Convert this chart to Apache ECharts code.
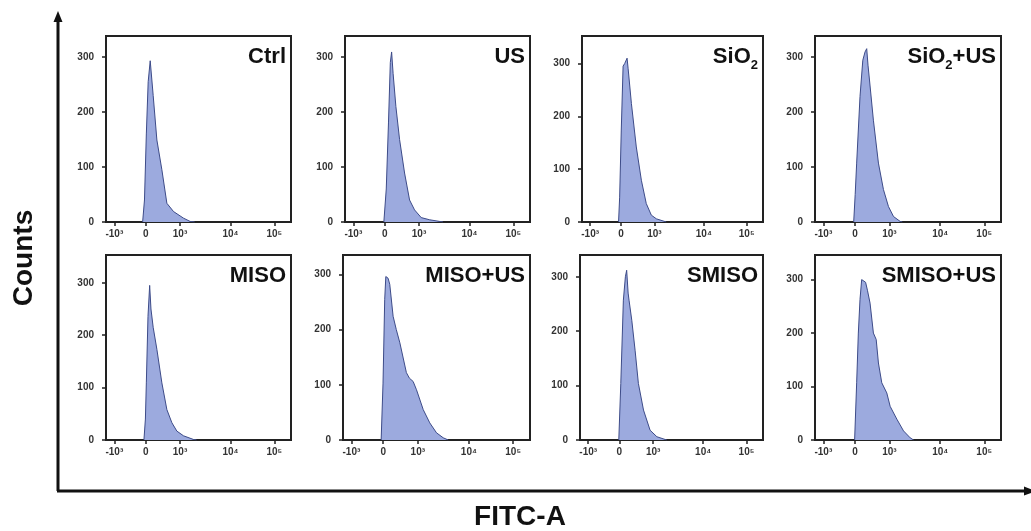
<!DOCTYPE html>
<html><head><meta charset="utf-8">
<script src="https://cdn.jsdelivr.net/npm/echarts@6/dist/echarts.min.js"></script>
<style>html,body{margin:0;padding:0;background:#fff}#c{width:1031px;height:531px}</style>
</head><body><div id="c"></div>
<script>
// ---- data (x in display/channel units of the biexponential FITC-A axis, y = counts)
const panelTitles = ['Ctrl', 'US', 'SiO{sub|2}', 'SiO{sub|2}+US', 'MISO', 'MISO+US', 'SMISO', 'SMISO+US'];
const xTickPos = [4.5, 21.5, 40, 67.3, 91];
const xTickLabels = ['-10³', '0', '10³', '10⁴', '10⁵'];
const yTicks = [0, 100, 200, 300];
const yMax = [338, 338, 352, 338, 353, 335, 340, 346];

const ctrl = [[19.8,0],[20.8,40],[21.8,160],[22.8,255],[23.9,293],[25.5,230],[27.5,149],[30.2,95],[32.9,34],[36.5,19],[41.9,7],[45.5,1],[48,0]];
const us = [[21,0],[22.3,60],[23.5,180],[24.5,290],[25.2,309],[26,270],[27.5,210],[29.5,150],[32.2,89],[34.9,40],[37.6,22],[41.2,8],[45.8,4],[51.2,1],[53,0]];
const sio2 = [[20.2,0],[20.8,47],[21.7,174],[22.7,295],[23.6,300],[24.2,297],[24.9,310],[25.5,290],[27.3,224],[30,142],[32.8,79],[35.5,35],[38.3,13],[41.1,6],[46.6,0]];
const sio2us = [[20.8,0],[21.6,50],[22.4,107],[24.2,228],[25.7,294],[26.9,309],[27.8,315],[28.5,285],[29.3,258],[31.4,185],[34.1,107],[36.8,59],[39.5,28],[42.2,10],[45.8,1],[47,0]];
const miso = [[20.5,0],[21.3,40],[21.8,109],[22.7,236],[23.6,295],[24.3,250],[25.5,215],[27.5,173],[30.2,109],[32.9,58],[35.6,33],[38.3,17],[41.9,8],[47.3,1],[49,0]];
const misous = [[20.4,0],[21.4,103],[22.3,254],[22.9,296],[24.1,293],[25,282],[26.8,224],[28.5,200],[30.4,176],[33.9,122],[35.5,112],[37.5,106],[39.3,91],[42.9,55],[46.4,31],[50,13],[53.6,4],[56.3,0]];
const smiso = [[21.2,0],[22.3,104],[23.7,257],[24.8,300],[25.5,312],[26.3,270],[26.8,257],[28.3,220],[30.1,165],[31.9,104],[34.7,55],[38.3,18],[42,6],[47.4,0]];
const smisous = [[21.3,0],[22.4,107],[23.3,200],[24.2,263],[25.1,300],[25.9,303],[27.2,295],[28.2,280],[29.6,256],[31.4,200],[32.9,188],[34.1,144],[35.9,107],[38.6,88],[40.4,63],[44,39],[47.6,17],[51.2,4],[53,0]];
const panelData = [ctrl, us, sio2, sio2us, miso, misous, smiso, smisous];

// ---- layout
const gridLefts = [106, 345, 582, 815, 106, 343, 580, 815];
const gridWidths = [185, 185, 181, 186, 185, 187, 183, 186];
const gridTops = [36, 36, 36, 36, 255, 255, 255, 255];
const gridHeights = [186, 186, 186, 186, 185, 185, 185, 185];

const W = 1031;
const FONT = 'Liberation Sans, Arial, sans-serif';
const tickColor = '#333';
const boxColor = '#222';

const grids = [], xAxes = [], yAxes = [], series = [], titles = [];
for (let i = 0; i < 8; i++) {
  grids.push({left: gridLefts[i], top: gridTops[i], width: gridWidths[i], height: gridHeights[i],
    show: true, borderColor: boxColor, borderWidth: 2, backgroundColor: '#fff'});
  xAxes.push({type: 'value', gridIndex: i, min: 0, max: 100,
    axisLine: {show: true, onZero: false, lineStyle: {color: boxColor, width: 2}},
    axisTick: {show: true, length: 4, customValues: xTickPos, lineStyle: {color: boxColor, width: 1.5}},
    axisLabel: {show: true, customValues: xTickPos, margin: 7, fontFamily: FONT, fontSize: 10, fontWeight: 'bold', color: tickColor,
      formatter: v => xTickLabels[xTickPos.indexOf(v)] || ''},
    splitLine: {show: false}});
  yAxes.push({type: 'value', gridIndex: i, min: 0, max: yMax[i],
    axisLine: {show: true, lineStyle: {color: boxColor, width: 2}},
    axisTick: {show: true, length: 4, customValues: yTicks, lineStyle: {color: boxColor, width: 1.5}},
    axisLabel: {show: true, customValues: yTicks, margin: 12, fontFamily: FONT, fontSize: 10, fontWeight: 'bold', color: tickColor},
    splitLine: {show: false}});
  series.push({type: 'line', xAxisIndex: i, yAxisIndex: i, data: panelData[i], showSymbol: false, symbol: 'none',
    lineStyle: {color: '#3d4b88', width: 1}, areaStyle: {color: '#9caade', opacity: 1}, silent: true, animation: false});
  titles.push({text: panelTitles[i], right: W - (gridLefts[i] + gridWidths[i]) + 5, top: gridTops[i] + 10, padding: 0,
    textStyle: {fontFamily: FONT, fontSize: 22, fontWeight: 'bold', color: '#111', lineHeight: 22,
      rich: {sub: {fontFamily: FONT, fontSize: 13, fontWeight: 'bold', color: '#111', lineHeight: 16, verticalAlign: 'top', padding: [13, 0, 0, 0]}}}});
}

const chart = echarts.init(document.getElementById('c'), null, {renderer: 'canvas'});
chart.setOption({
  backgroundColor: '#fff',
  animation: false,
  title: titles,
  grid: grids, xAxis: xAxes, yAxis: yAxes, series: series,
  graphic: [
    {type: 'line', shape: {x1: 58, y1: 20, x2: 58, y2: 491}, style: {stroke: '#111', lineWidth: 3}},
    {type: 'line', shape: {x1: 57, y1: 491, x2: 1026, y2: 491}, style: {stroke: '#111', lineWidth: 3}},
    {type: 'polygon', shape: {points: [[58, 11], [53.5, 22], [62.5, 22]]}, style: {fill: '#111'}},
    {type: 'polygon', shape: {points: [[1036, 491], [1024, 486.5], [1024, 495.5]]}, style: {fill: '#111'}},
    {type: 'text', x: 24, y: 258, rotation: Math.PI / 2,
      style: {text: 'Counts', font: 'bold 28px ' + FONT, fill: '#111', align: 'center', verticalAlign: 'middle', textAlign: 'center', textVerticalAlign: 'middle'}},
    {type: 'text', x: 520, y: 517,
      style: {text: 'FITC-A', font: 'bold 28px ' + FONT, fill: '#111', align: 'center', verticalAlign: 'middle', textAlign: 'center', textVerticalAlign: 'middle'}}
  ]
});
</script></body></html>
